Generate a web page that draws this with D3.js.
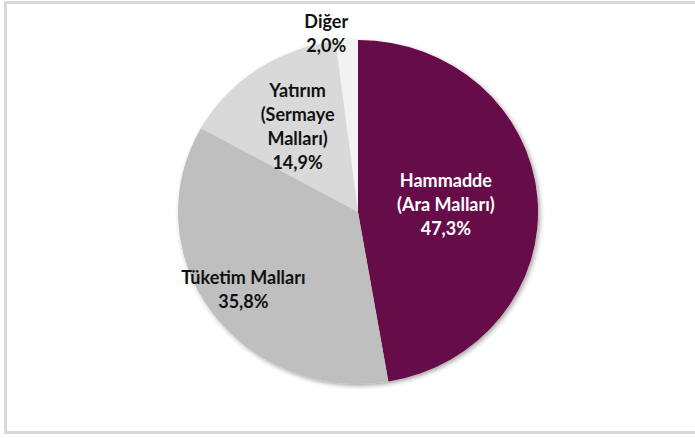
<!DOCTYPE html>
<html>
<head>
<meta charset="utf-8">
<script src="https://cdn.jsdelivr.net/npm/d3@7"></script>
<style>
  body { margin: 0; background: #fff; }
  svg { display: block; }
  .lbl { font-family: Lato, "Open Sans", sans-serif; font-weight: bold; font-size: 18px; }
</style>
</head>
<body>
<div id="chart"></div>
<script>
// data
var categories = ["Hammadde (Ara Malları)", "Tüketim Malları", "Yatırım (Sermaye Malları)", "Diğer"];
var values = [47.3, 35.8, 14.9, 2.0];
var labelLines = [
  ["Hammadde", "(Ara Malları)", "47,3%"],
  ["Tüketim Malları", "35,8%"],
  ["Yatırım", "(Sermaye", "Malları)", "14,9%"],
  ["Diğer", "2,0%"]
];
var colors = ["#660748", "#bfbfbf", "#d9d9d9", "#f2f2f2"];
var textColors = ["#ffffff", "#111111", "#111111", "#111111"];

var svgWidth = 695, svgHeight = 438;
var cx = 358, cy = 212, rx = 180, ry = 172;

// label placement: fraction of the radius along the slice mid angle, plus x nudge
var labelRadius = [0.49, 0.78, 0.6, 1.04];
var labelNudge = [0, 0, 0, -20];
var lineHeight = 24;

var svg = d3.select("#chart").append("svg")
  .attr("width", svgWidth)
  .attr("height", svgHeight);

// frame
svg.append("path")
  .attr("d", "M695,2.5 H5.5 V432.5 H695")
  .attr("fill", "none")
  .attr("stroke", "#d9d9d9")
  .attr("stroke-width", 3);

var defs = svg.append("defs");
var f = defs.append("filter").attr("id", "shadow")
  .attr("x", "-10%").attr("y", "-10%").attr("width", "125%").attr("height", "125%");
f.append("feDropShadow")
  .attr("dx", 2).attr("dy", 2).attr("stdDeviation", 2.5)
  .attr("flood-color", "#000").attr("flood-opacity", 0.35);

var pie = d3.pie().sort(null).value(d => d)(values);
var arc = d3.arc().innerRadius(0).outerRadius(rx);

var pieGroup = svg.append("g")
  .attr("transform", `translate(${cx}, ${cy}) scale(1, ${ry / rx})`)
  .attr("filter", "url(#shadow)");

pieGroup.selectAll("path")
  .data(pie)
  .enter()
  .append("path")
  .attr("d", arc)
  .attr("fill", (d, i) => colors[i]);

// labels
var labels = svg.append("g");
pie.forEach(function(d, i) {
  var mid = (d.startAngle + d.endAngle) / 2;
  var x = cx + Math.sin(mid) * rx * labelRadius[i] + labelNudge[i];
  var y = cy - Math.cos(mid) * ry * labelRadius[i];
  var lines = labelLines[i];
  var t = labels.append("text")
    .attr("class", "lbl")
    .attr("text-anchor", "middle")
    .attr("fill", textColors[i]);
  lines.forEach(function(s, j) {
    t.append("tspan")
      .attr("x", x)
      .attr("y", y + (j - (lines.length - 1) / 2) * lineHeight)
      .attr("dy", "0.36em")
      .text(s);
  });
});
</script>
</body>
</html>
